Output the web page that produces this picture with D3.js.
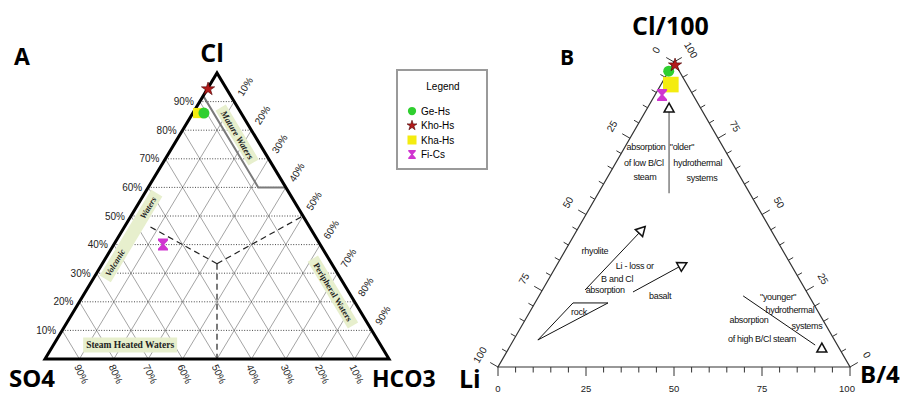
<!DOCTYPE html>
<html>
<head>
<meta charset="utf-8">
<script src="https://cdn.jsdelivr.net/npm/d3@7"></script>
<style>
  body { margin: 0; background: #fff; }
  svg { display: block; }
</style>
</head>
<body>
<svg id="chart" width="912" height="394"></svg>
<script>
// samples
const samples = ['Ge-Hs', 'Kho-Hs', 'Kha-Hs', 'Fi-Cs'];
const sampleColors = ['#2fcf2f', '#b31b1b', '#f4ec10', '#d035d0'];
const sampleShapes = ['circle', 'star', 'square', 'hourglass'];

// panel A : Cl - SO4 - HCO3 (fractions)
const clA   = [0.86, 0.944, 0.86, 0.40];
const so4A  = [0.108, 0.054, 0.125, 0.457];
const hco3A = [0.032, 0.002, 0.015, 0.143];
const drawOrderA = [2, 0, 1, 3];

// panel B : Cl/100 - Li - B/4 (fractions)
const clB = [0.97, 0.99, 0.926, 0.892];
const liB = [0.03, 0.002, 0.046, 0.088];
const bB  = [0.0, 0.008, 0.028, 0.02];
const drawOrderB = [0, 2, 1, 3];

const pctSteps = [1, 2, 3, 4, 5, 6, 7, 8, 9];
const bMinor = d3.range(0, 101, 5);
const bMajor = [0, 25, 50, 75, 100];

// Giggenbach boundaries in panel A, as [Cl, HCO3]
const matureLine = [[0.92, 0], [0.60, 0.32], [0.60, 0.40]];
const centre = [1 / 3, 1 / 3];
const dashEnds = [[0, 0.5], [0.5, 0.5], [0.468, 0.063]];

// panel B annotations, as [B, Cl]
const arrowsB = [
  { from: [0.201, 0.570], to: [0.068, 0.836], color: '#888', width: 1.6 },
  { from: [0.121, 0.2525], to: [0.181, 0.439], color: '#111', width: 1 },
  { from: [0.2605, 0.246], to: [0.350, 0.328], color: '#111', width: 1 },
  { from: [0.580, 0.233], to: [0.865, 0.072], color: '#111', width: 1, head: [0.889, 0.062] }
];
const rockTri = [[0.069, 0.0885], [0.108, 0.21], [0.2075, 0.21]];
const notesB = [
  ['absorption', 0.065, 0.711], ['of low B/Cl', 0.085, 0.659], ['steam', 0.111, 0.613],
  ['"older"', 0.167, 0.711], ['hydrothermal', 0.238, 0.659], ['systems', 0.2745, 0.61],
  ['rhyolite', 0.090, 0.3705], ['Li - loss or', 0.228, 0.321], ['B and Cl', 0.199, 0.279],
  ['absorption', 0.183, 0.243], ['basalt', 0.349, 0.223], ['rock', 0.145, 0.170],
  ['"younger"', 0.686, 0.2197], ['hydrothermal', 0.741, 0.177], ['absorption', 0.641, 0.144],
  ['systems', 0.8155, 0.1246], ['of high B/Cl steam', 0.709, 0.082]
];

const svg = d3.select('#chart');
const headFont = '"Open Sans", "Liberation Sans", sans-serif';
const smallFont = '"Liberation Sans", Arial, sans-serif';
const serif = '"Liberation Serif", "DejaVu Serif", serif';

function marker(g, shape, color, k) {
  if (shape === 'circle') {
    g.append('circle').attr('r', 5.5 * k).attr('fill', color);
  } else if (shape === 'square') {
    g.append('rect').attr('x', -6 * k).attr('y', -6 * k).attr('width', 12 * k).attr('height', 12 * k).attr('fill', color);
  } else if (shape === 'star') {
    g.append('path').attr('d', d3.symbol(d3.symbolStar, 55 * k * k)())
      .attr('fill', color).attr('stroke', '#4a0000').attr('stroke-width', 0.6);
  } else {
    const s = k;
    g.append('path')
      .attr('d', `M${-5*s},${-6*s}H${5*s}V${-4.2*s}L${1.2*s},0L${5*s},${4.2*s}V${6*s}H${-5*s}V${4.2*s}L${-1.2*s},0L${-5*s},${-4.2*s}Z`)
      .attr('fill', color);
  }
}

// ================= panel A =================
const ax = d3.scaleLinear().domain([0, 1]).range([45, 389]);
const ay = d3.scaleLinear().domain([0, 1]).range([359, 73]);
const pA = (cl, h) => [ax(h + cl / 2), ay(cl)];
const angA = Math.atan2(ay(0) - ay(1), ax(1) - ax(0.5)) * 180 / Math.PI;
const gA = svg.append('g');
const lineA = d3.line().x(d => pA(d[0], d[1])[0]).y(d => pA(d[0], d[1])[1]);

// grid
pctSteps.forEach(k => {
  const f = k / 10;
  gA.append('path').attr('d', lineA([[f, 0], [f, 1 - f]]))
    .attr('stroke', '#333').attr('stroke-width', 0.9).attr('stroke-dasharray', '1,1.6').attr('fill', 'none');
  gA.append('path').attr('d', lineA([[0, f], [1 - f, f]]))
    .attr('stroke', '#666').attr('stroke-width', 0.6).attr('fill', 'none');
  gA.append('path').attr('d', lineA([[0, 1 - f], [1 - f, 0]]))
    .attr('stroke', '#666').attr('stroke-width', 0.6).attr('fill', 'none');
});

// region boxes
function regionLabel(cl, h, rot, w, hgt, texts, style, size) {
  const [x, y] = pA(cl, h);
  const g = gA.append('g').attr('transform', `translate(${x},${y}) rotate(${rot})`);
  g.append('rect').attr('x', -w / 2).attr('y', -hgt / 2).attr('width', w).attr('height', hgt).attr('fill', '#e7efcd');
  texts.forEach(t => {
    g.append('text').attr('x', t[1]).attr('y', 3).attr('text-anchor', 'middle')
      .attr('font-family', serif).attr('font-size', size).attr('font-weight', 'bold')
      .attr('font-style', style).attr('fill', '#222').text(t[0]);
  });
}
regionLabel(0.783, 0.167, angA, 64, 12, [['Mature Waters', 0]], 'italic', 9);
regionLabel(0.234, 0.72, angA, 78, 12, [['Peripheral Waters', 0]], 'normal', 8.5);
regionLabel(0.049, 0.223, 0, 94, 15, [['Steam Heated Waters', 0]], 'normal', 9.5);
regionLabel(0.43, 0.035, -angA, 100, 13, [['Volcanic', -31], ['Waters', 33]], 'italic', 8.5);

// boundaries
gA.append('path').attr('d', lineA(matureLine))
  .attr('stroke', '#7a7a7a').attr('stroke-width', 2).attr('fill', 'none');
dashEnds.forEach(e => {
  gA.append('path').attr('d', lineA([centre, e]))
    .attr('stroke', '#222').attr('stroke-width', 1.2).attr('stroke-dasharray', '6,4').attr('fill', 'none');
});

// outline
gA.append('path').attr('d', lineA([[0, 0], [1, 0], [0, 1], [0, 0]]) + 'Z')
  .attr('stroke', '#000').attr('stroke-width', 3).attr('fill', 'none').attr('stroke-linejoin', 'miter');

// percent labels
pctSteps.forEach(k => {
  const f = k / 10;
  const [lx, ly] = pA(f, 0);
  gA.append('text').attr('x', lx - 6).attr('y', ly + 3.5).attr('text-anchor', 'end')
    .attr('font-family', smallFont).attr('font-size', 10).attr('fill', '#222').text(`${k * 10}%`);
  const [rx, ry] = pA(1 - f, f);
  gA.append('text').attr('transform', `translate(${rx + 11},${ry - 15}) rotate(-58)`)
    .attr('text-anchor', 'middle').attr('dy', '0.35em')
    .attr('font-family', smallFont).attr('font-size', 10).attr('fill', '#222').text(`${k * 10}%`);
  const [bx0, by0] = pA(0, f);
  gA.append('text').attr('transform', `translate(${bx0 + 2},${by0 + 15}) rotate(65)`)
    .attr('text-anchor', 'middle').attr('dy', '0.35em')
    .attr('font-family', smallFont).attr('font-size', 10).attr('fill', '#222').text(`${100 - k * 10}%`);
});

// samples
drawOrderA.forEach(i => {
  const [x, y] = pA(clA[i], hco3A[i]);
  marker(gA.append('g').attr('transform', `translate(${x},${y})`), sampleShapes[i], sampleColors[i], i === 2 ? 0.85 : 1);
});

// titles
svg.append('text').attr('x', 14).attr('y', 65).attr('font-family', headFont).attr('font-weight', 'bold').attr('font-size', 23).text('A');
svg.append('text').attr('x', 212).attr('y', 62).attr('text-anchor', 'middle').attr('font-family', headFont).attr('font-weight', 'bold').attr('font-size', 25).text('Cl');
svg.append('text').attr('x', 9).attr('y', 387).attr('font-family', headFont).attr('font-weight', 'bold').attr('font-size', 24).text('SO4');
svg.append('text').attr('x', 372).attr('y', 387).attr('font-family', headFont).attr('font-weight', 'bold').attr('font-size', 23).text('HCO3');

// ================= legend =================
const lg = svg.append('g');
lg.append('rect').attr('x', 397).attr('y', 70).attr('width', 90).attr('height', 99)
  .attr('fill', '#fff').attr('stroke', '#9a9a9a').attr('stroke-width', 2);
lg.append('text').attr('x', 443).attr('y', 90).attr('text-anchor', 'middle')
  .attr('font-family', smallFont).attr('font-size', 10).text('Legend');
samples.forEach((s, i) => {
  const y = 111 + i * 14.5;
  marker(lg.append('g').attr('transform', `translate(412,${y})`), sampleShapes[i], sampleColors[i], 0.75);
  lg.append('text').attr('x', 421).attr('y', y + 3.5).attr('font-family', smallFont).attr('font-size', 10).text(s);
});

// ================= panel B =================
const bx = d3.scaleLinear().domain([0, 1]).range([498, 850]);
const by = d3.scaleLinear().domain([0, 1]).range([367, 62]);
const pB = (cl, b) => [bx(b + cl / 2), by(cl)];
const gB = svg.append('g');
const lineB = d3.line().x(d => pB(d[1], d[0])[0]).y(d => pB(d[1], d[0])[1]);

gB.append('path').attr('d', lineB([[0, 0], [1, 0], [0, 1]]) + 'Z')
  .attr('stroke', '#333').attr('stroke-width', 1.2).attr('fill', 'none');

const c30 = Math.cos(Math.PI / 6), s30 = 0.5;
bMinor.forEach(v => {
  const len = v % 25 === 0 ? 9 : 5.5;
  const f = v / 100;
  // bottom axis
  const [x1, y1] = pB(0, f);
  gB.append('line').attr('x1', x1).attr('y1', y1).attr('x2', x1).attr('y2', y1 + len)
    .attr('stroke', '#333').attr('stroke-width', 1);
  // left axis (0 at apex)
  const [x2, y2] = pB(1 - f, 0);
  gB.append('line').attr('x1', x2).attr('y1', y2).attr('x2', x2 - len * c30).attr('y2', y2 - len * s30)
    .attr('stroke', '#333').attr('stroke-width', 1);
  // right axis (100 at apex)
  const [x3, y3] = pB(f, 1 - f);
  gB.append('line').attr('x1', x3).attr('y1', y3).attr('x2', x3 + len * c30).attr('y2', y3 - len * s30)
    .attr('stroke', '#333').attr('stroke-width', 1);
});
bMajor.forEach(v => {
  const f = v / 100;
  const [x1, y1] = pB(0, f);
  gB.append('text').attr('x', x1 - (v === 100 ? 3 : 0)).attr('y', y1 + 25).attr('text-anchor', 'middle')
    .attr('font-family', smallFont).attr('font-size', 9.5).attr('fill', '#222').text(v);
  const [x2, y2] = pB(1 - f, 0);
  gB.append('text').attr('transform', `translate(${x2 - 18},${y2 - 12}) rotate(-60)`)
    .attr('text-anchor', 'middle').attr('dy', '0.35em')
    .attr('font-family', smallFont).attr('font-size', 10).attr('fill', '#222').text(v);
  const [x3, y3] = pB(f, 1 - f);
  gB.append('text').attr('transform', `translate(${x3 + 17},${y3 - 12}) rotate(60)`)
    .attr('text-anchor', 'middle').attr('dy', '0.35em')
    .attr('font-family', smallFont).attr('font-size', 10).attr('fill', '#222').text(v);
});

// annotations
const triHead = 'M9,0L0,-5L0,5Z';
arrowsB.forEach(a => {
  const [xa, ya] = pB(a.from[1], a.from[0]);
  const [xb, yb] = pB(a.to[1], a.to[0]);
  gB.append('line').attr('x1', xa).attr('y1', ya).attr('x2', xb).attr('y2', yb)
    .attr('stroke', a.color).attr('stroke-width', a.width);
  if (a.head) {
    const [hx, hy] = pB(a.head[1], a.head[0]);
    gB.append('path').attr('d', triHead).attr('transform', `translate(${hx},${hy + 4}) rotate(-90)`)
      .attr('fill', '#fff').attr('stroke', '#111').attr('stroke-width', 1.5).attr('stroke-linejoin', 'miter');
  } else {
    const ang = Math.atan2(yb - ya, xb - xa) * 180 / Math.PI;
    gB.append('path').attr('d', triHead).attr('transform', `translate(${xb},${yb}) rotate(${ang})`)
      .attr('fill', '#fff').attr('stroke', '#111').attr('stroke-width', 1.5).attr('stroke-linejoin', 'miter');
  }
});
gB.append('path').attr('d', lineB(rockTri) + 'Z')
  .attr('stroke', '#111').attr('stroke-width', 1).attr('fill', 'none');
notesB.forEach(n => {
  const [x, y] = pB(n[2], n[1]);
  gB.append('text').attr('x', x).attr('y', y).attr('text-anchor', 'middle')
    .attr('font-family', smallFont).attr('font-size', 9).attr('letter-spacing', -0.3)
    .attr('fill', '#111').text(n[0]);
});

drawOrderB.forEach(i => {
  const [x, y] = pB(clB[i], bB[i]);
  marker(gB.append('g').attr('transform', `translate(${x},${y})`), sampleShapes[i], sampleColors[i],
    i === 2 ? 1.3 : 1);
});

svg.append('text').attr('x', 560).attr('y', 65).attr('font-family', headFont).attr('font-weight', 'bold').attr('font-size', 21).text('B');
svg.append('text').attr('x', 632).attr('y', 35).attr('font-family', headFont).attr('font-weight', 'bold').attr('font-size', 25).text('Cl/100');
svg.append('text').attr('x', 459).attr('y', 388).attr('font-family', headFont).attr('font-weight', 'bold').attr('font-size', 25).text('Li');
svg.append('text').attr('x', 860).attr('y', 383).attr('font-family', headFont).attr('font-weight', 'bold').attr('font-size', 24).text('B/4');
</script>
</body>
</html>
